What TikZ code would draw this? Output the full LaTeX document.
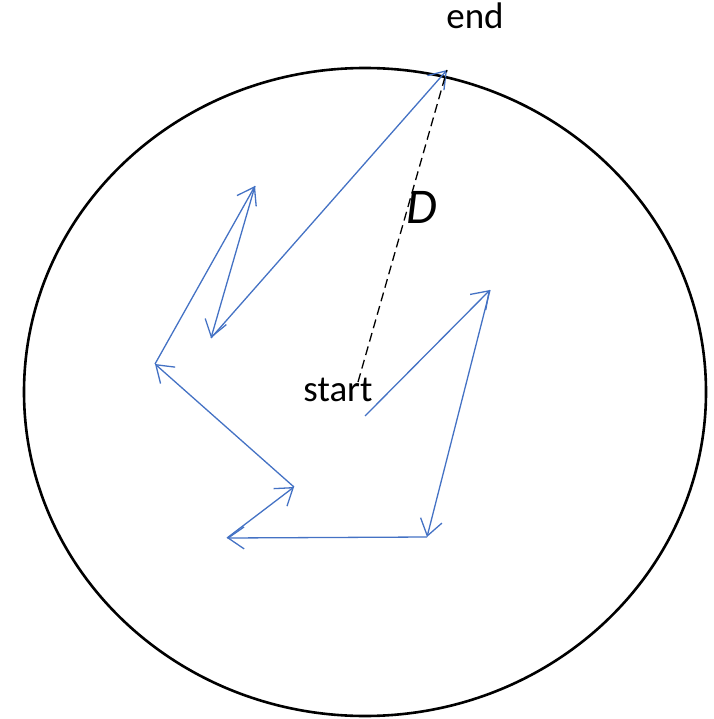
\documentclass[tikz,border=0pt]{standalone}
\usepackage{fontspec}
\setmainfont{Carlito}
\usetikzlibrary{arrows.meta}
\definecolor{walk}{RGB}{68,114,196}
\begin{document}
\begin{tikzpicture}[x=1pt,y=-1pt,
  walkstep/.style={draw=walk,line width=1.3pt,-{Straight Barb[length=16pt,width=22pt,line width=1.3pt]}},
  lbl/.style={inner sep=0pt,font=\fontsize{37}{41}\selectfont}]
\useasboundingbox (0,0) rectangle (713,719);
\draw[line width=2.6pt] (365,392) ellipse [x radius=341, y radius=324];
\coordinate (p0) at (365,416);
\coordinate (p1) at (490,290);
\coordinate (p2) at (427,537);
\coordinate (p3) at (227,538);
\coordinate (p4) at (294,487);
\coordinate (p5) at (155,364);
\coordinate (p6) at (255,186);
\coordinate (p7) at (211,338);
\coordinate (p8) at (447,70);
\coordinate (d0) at (358,382);
\draw[walkstep] (p0) -- (p1);
\draw[walkstep] (p1) -- (p2);
\draw[walkstep] (p2) -- (p3);
\draw[walkstep] (p3) -- (p4);
\draw[walkstep] (p4) -- (p5);
\draw[walkstep] (p5) -- (p6);
\draw[walkstep] (p6) -- (p7);
\draw[walkstep] (p7) -- (p8);
\draw[dashed,line width=1.3pt,dash pattern=on 9pt off 5pt] (d0) -- (p8);
\node[lbl,anchor=base] (start) at (338,401) {start};
\node[lbl,anchor=base] (end) at (475,29) {end};
\node[lbl,font=\fontsize{50}{54}\selectfont\itshape] (D) at (422,207) {D};
\end{tikzpicture}
\end{document}
